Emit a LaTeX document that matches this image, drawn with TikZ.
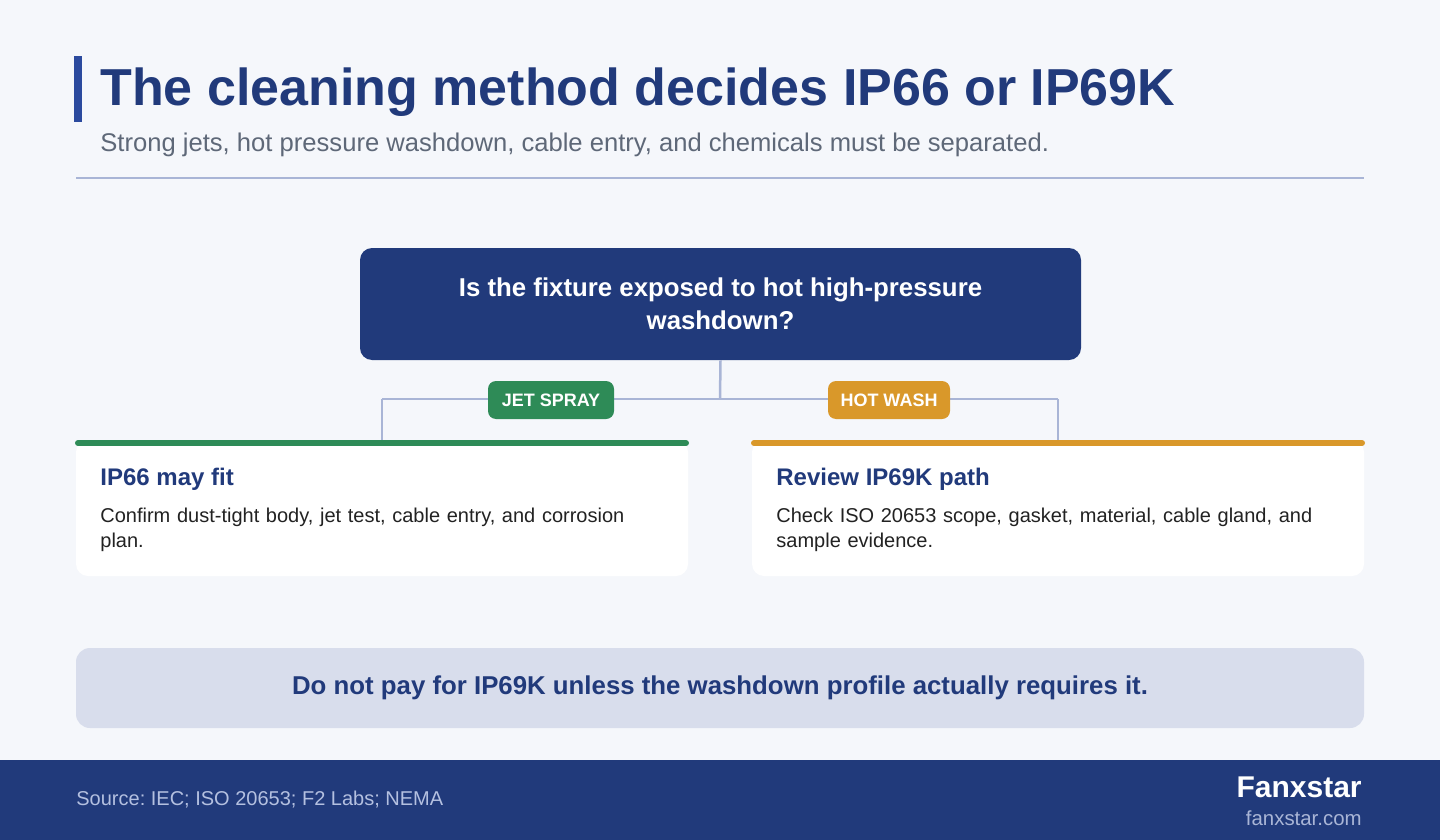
\documentclass[tikz,border=0pt]{standalone}
\usepackage{fontspec}
\setmainfont{Liberation Sans}
\usetikzlibrary{positioning}
\frenchspacing
\definecolor{pagebg}{HTML}{F5F7FB}
\definecolor{navy}{HTML}{213A7B}
\definecolor{accent}{HTML}{2B4A9E}
\definecolor{subgray}{HTML}{5E6878}
\definecolor{rulec}{HTML}{A9B5D6}
\definecolor{jetgreen}{HTML}{2E8B57}
\definecolor{hotorange}{HTML}{D9982A}
\definecolor{bodytext}{HTML}{222222}
\definecolor{bannerbg}{HTML}{D8DDEC}
\definecolor{footsrc}{HTML}{B4C0E0}
\tikzset{
  link/.style={draw=rulec, line width=1.25pt},
  qbox/.style={fill=navy, rounded corners=6pt, text=white, align=center,
    font=\bfseries\fontsize{12.9}{16.5}\selectfont,
    minimum width=360.5pt, minimum height=56pt},
  pill/.style={rounded corners=4pt, text=white, minimum height=19pt,
    font=\bfseries\fontsize{9}{10}\selectfont},
  card/.style={fill=white, rounded corners=6pt, minimum width=306pt, minimum height=68pt},
  cardtitle/.style={anchor=base west, inner sep=0pt, text=navy,
    font=\bfseries\fontsize{12}{14}\selectfont},
  cardbody/.style={anchor=base west, inner sep=0pt, text=bodytext, align=left,
    text width=282pt, font=\fontsize{10}{12.5}\selectfont},
}
\begin{document}
\begin{tikzpicture}[x=0.5pt, y=-0.5pt]
  \useasboundingbox (0,0) rectangle (1440,840);
  \fill[pagebg] (0,0) rectangle (1440,840);

  % header
  \fill[accent] (74,56) rectangle (82,122);
  \node[anchor=base west, inner sep=0pt, text=navy, font=\bfseries\fontsize{26}{30}\selectfont]
    (title) at (100,105) {The cleaning method decides IP66 or IP69K};
  \node[anchor=base west, inner sep=0pt, text=subgray, font=\fontsize{12.8}{14}\selectfont]
    (subtitle) at (100,152) {Strong jets, hot pressure washdown, cable entry, and chemicals must be separated.};
  \draw[rulec, line width=1pt] (76,178) -- (1364,178);

  % question and branches
  \node[qbox] (question) at (720.5,304) {Is the fixture exposed to hot high-pressure\\washdown?};
  \coordinate (jn) at (720,399);
  \coordinate (jl) at (382,399);
  \coordinate (jr) at (1058,399);
  \node[card] (cardL) at (382,508) {};
  \node[card] (cardR) at (1058,508) {};
  \draw[link] (question.south) -- (jn);
  \draw[link] (jl) -- (jr);
  \draw[link] (jl) -- (cardL.north);
  \draw[link] (jr) -- (cardR.north);
  \node[pill, fill=jetgreen, minimum width=63pt] (jet) at (551,400) {JET SPRAY};
  \node[pill, fill=hotorange, minimum width=61pt] (hot) at (889,400) {HOT WASH};

  % cards
  \draw[jetgreen, line width=3pt, line cap=round] (78,443) -- (686,443);
  \draw[hotorange, line width=3pt, line cap=round] (754,443) -- (1362,443);
  \node[cardtitle] (ttlL) at (100,485) {IP66 may fit};
  \node[cardbody] (txtL) at (100,522) {\raggedright Confirm dust-tight body, jet test, cable entry, and corrosion plan.};
  \node[cardtitle] (ttlR) at (776,485) {Review IP69K path};
  \node[cardbody] (txtR) at (776,522) {\raggedright Check ISO 20653 scope, gasket, material, cable gland, and sample evidence.};

  % banner
  \node[fill=bannerbg, rounded corners=7pt, minimum width=644pt, minimum height=40pt,
    text=navy, font=\bfseries\fontsize{12.9}{15}\selectfont]
    (banner) at (720,688) {Do not pay for IP69K unless the washdown profile actually requires it.};

  % footer
  \fill[navy] (0,760) rectangle (1440,840);
  \node[anchor=base west, inner sep=0pt, text=footsrc, font=\fontsize{10}{12}\selectfont]
    (source) at (76,805) {Source: IEC; ISO 20653; F2 Labs; NEMA};
  \node[anchor=base east, inner sep=0pt, text=white, font=\bfseries\fontsize{15}{17}\selectfont]
    (brand) at (1362,797) {Fanxstar};
  \node[anchor=base east, inner sep=0pt, text=rulec, font=\fontsize{10.2}{12}\selectfont]
    (site) at (1362,825) {fanxstar.com};
\end{tikzpicture}
\end{document}
